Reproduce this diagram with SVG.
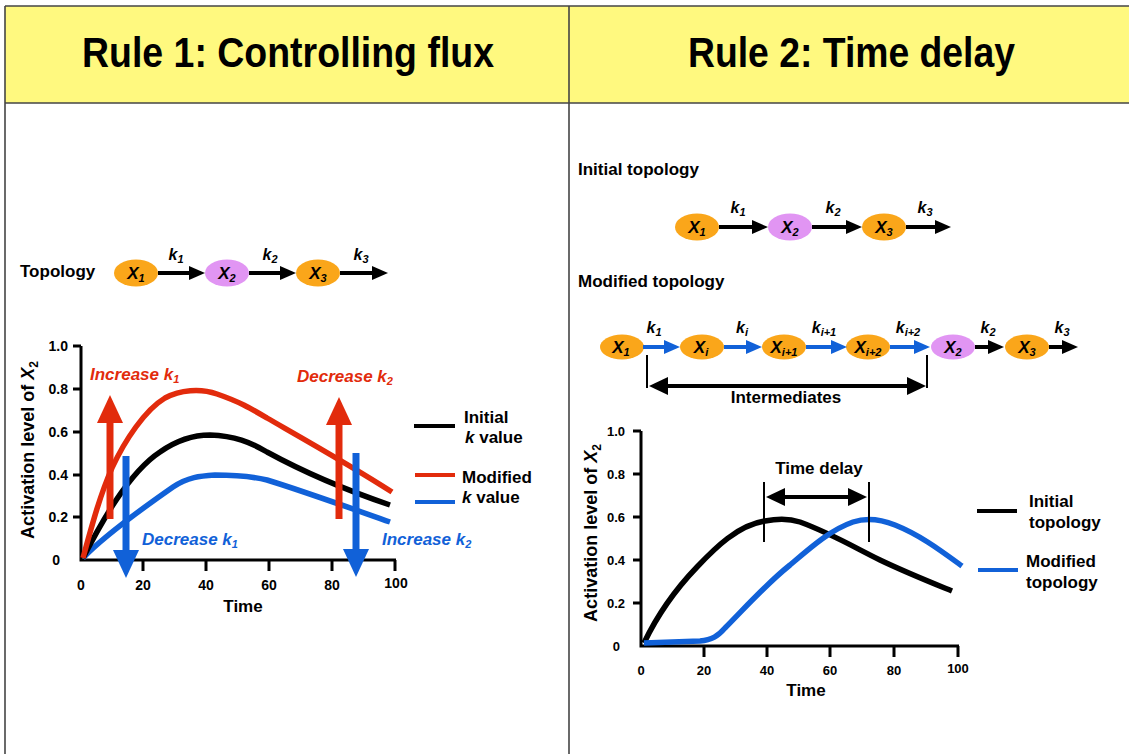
<svg xmlns="http://www.w3.org/2000/svg" width="1129" height="754" viewBox="0 0 1129 754">
<style>
text{font-family:"Liberation Sans",Arial,Helvetica,sans-serif;font-weight:bold;fill:#000}
.it{font-style:italic}
.hd{font-size:42px}
.lb{font-size:17px}
.nd{font-size:17px;font-style:italic;text-anchor:middle}
.kl{font-size:16px;font-style:italic;text-anchor:middle}
.tk{font-size:14px}
.tk2{font-size:13px}
.ax{fill:none;stroke:#000;stroke-width:3}
.tick{stroke:#000;stroke-width:3}
.frame{stroke:#444;stroke-width:1.6;fill:none}
.orange{fill:#FAA61A}
.purple{fill:#E195F3}
.blk{stroke:#000;stroke-width:4;fill:none}
.blu{stroke:#1161D8;stroke-width:4;fill:none}
.crvk{fill:none;stroke:#000;stroke-width:5.5;stroke-linecap:butt}
.crvr{fill:none;stroke:#E22B0C;stroke-width:5.5}
.crvb{fill:none;stroke:#1161D8;stroke-width:5.5}
.red{fill:#E22B0C}
.blue{fill:#1161D8}
.thin{stroke:#000;stroke-width:2}
</style>
<defs>
<marker id="ah" viewBox="0 0 16 14" refX="2" refY="7" markerWidth="16" markerHeight="14" markerUnits="userSpaceOnUse" orient="auto"><path d="M0,0 L16,7 L0,14 z" fill="#000"/></marker>
<marker id="ahb" viewBox="0 0 16 14" refX="2" refY="7" markerWidth="16" markerHeight="14" markerUnits="userSpaceOnUse" orient="auto"><path d="M0,0 L16,7 L0,14 z" fill="#1161D8"/></marker>
<marker id="ahd" viewBox="0 0 19 18" refX="3" refY="9" markerWidth="19" markerHeight="18" markerUnits="userSpaceOnUse" orient="auto-start-reverse"><path d="M0,0 L19,9 L0,18 z" fill="#000"/></marker>
<marker id="bigr" viewBox="0 0 28 26" refX="2" refY="13" markerWidth="28" markerHeight="26" markerUnits="userSpaceOnUse" orient="auto"><path d="M0,0 L28,13 L0,26 z" fill="#E22B0C"/></marker>
<marker id="bigb" viewBox="0 0 28 26" refX="2" refY="13" markerWidth="28" markerHeight="26" markerUnits="userSpaceOnUse" orient="auto"><path d="M0,0 L28,13 L0,26 z" fill="#1161D8"/></marker>
</defs>

<g id="frame">
<rect x="5" y="6" width="1124" height="97" fill="#FFF97F"/>
<line class="frame" x1="5" y1="6" x2="1129" y2="6"/>
<line class="frame" x1="5" y1="103" x2="1129" y2="103"/>
<line class="frame" x1="5" y1="6" x2="5" y2="754"/>
<line class="frame" x1="569" y1="6" x2="569" y2="754"/>
<text class="hd" x="82" y="67" textLength="412" lengthAdjust="spacingAndGlyphs">Rule 1: Controlling flux</text>
<text class="hd" x="688" y="67" textLength="327" lengthAdjust="spacingAndGlyphs">Rule 2: Time delay</text>
</g>

<!-- LEFT TOPOLOGY -->
<text class="lb" x="20" y="277">Topology</text>
<g id="L_X1"><ellipse class="orange" cx="136" cy="273" rx="22" ry="13.5"/><text class="nd" x="136" y="279">X<tspan font-size="11" dy="3">1</tspan></text></g>
<g id="L_X2"><ellipse class="purple" cx="227" cy="273" rx="22" ry="13.5"/><text class="nd" x="227" y="279">X<tspan font-size="11" dy="3">2</tspan></text></g>
<g id="L_X3"><ellipse class="orange" cx="318" cy="273" rx="22" ry="13.5"/><text class="nd" x="318" y="279">X<tspan font-size="11" dy="3">3</tspan></text></g>
<g id="L_edges">
<line class="blk" x1="158" y1="273" x2="191" y2="273" marker-end="url(#ah)"/>
<line class="blk" x1="249" y1="273" x2="282" y2="273" marker-end="url(#ah)"/>
<line class="blk" x1="340" y1="273" x2="374" y2="273" marker-end="url(#ah)"/>
<text class="kl" x="176" y="260">k<tspan font-size="11" dy="3">1</tspan></text>
<text class="kl" x="270" y="260">k<tspan font-size="11" dy="3">2</tspan></text>
<text class="kl" x="361" y="260">k<tspan font-size="11" dy="3">3</tspan></text>
</g>

<!-- LEFT CHART -->
<g id="L_chart">
<path class="ax" d="M81,346 V560 H396"/>
<g class="tick">
<line x1="73" y1="346" x2="81" y2="346"/><line x1="73" y1="389" x2="81" y2="389"/><line x1="73" y1="432" x2="81" y2="432"/><line x1="73" y1="475" x2="81" y2="475"/><line x1="73" y1="517" x2="81" y2="517"/>
<line x1="143" y1="560" x2="143" y2="571"/><line x1="206" y1="560" x2="206" y2="571"/><line x1="269" y1="560" x2="269" y2="571"/><line x1="332" y1="560" x2="332" y2="571"/><line x1="395" y1="560" x2="395" y2="571"/>
</g>
<g class="tk" text-anchor="end">
<text x="68" y="351">1.0</text><text x="68" y="394">0.8</text><text x="68" y="437">0.6</text><text x="68" y="480">0.4</text><text x="68" y="522">0.2</text><text x="60" y="565">0</text>
</g>
<g class="tk" text-anchor="middle">
<text x="81" y="590">0</text><text x="143" y="590">20</text><text x="206" y="590">40</text><text x="269" y="590">60</text><text x="332" y="590">80</text><text x="396" y="588">100</text>
</g>
<text class="lb" x="243" y="612" text-anchor="middle">Time</text>
<text font-size="18" text-anchor="middle" transform="translate(34,450) rotate(-90)">Activation level of <tspan class="it">X</tspan><tspan font-size="12" dy="4">2</tspan></text>
<path class="crvb" d="M83,558 C100,540 140,510 173,487 C188,477 200,476 215,475 C235,475 250,476 267,480 C300,490 350,508 390,522"/>
<path class="crvk" d="M83,558 C100,525 128,473 160,452 C180,438 198,435 210,435 C235,436 250,442 267,452 C300,470 340,488 390,505"/>
<path class="crvr" d="M83,558 C92,525 100,495 112,468 C125,440 145,410 165,398 C180,390 200,388 217,394 C240,402 250,408 267,418 C300,437 350,465 392,492"/>
<line x1="110" y1="519" x2="110" y2="421" stroke="#E22B0C" stroke-width="7" marker-end="url(#bigr)"/>
<line x1="339" y1="519" x2="339" y2="423" stroke="#E22B0C" stroke-width="7" marker-end="url(#bigr)"/>
<line x1="126" y1="456" x2="126" y2="552" stroke="#1161D8" stroke-width="7" marker-end="url(#bigb)"/>
<line x1="356" y1="453" x2="356" y2="551" stroke="#1161D8" stroke-width="7" marker-end="url(#bigb)"/>
<text class="lb it red" x="90" y="380">Increase k<tspan font-size="11" dy="3">1</tspan></text>
<text class="lb it red" x="297" y="382">Decrease k<tspan font-size="11" dy="3">2</tspan></text>
<text class="lb it blue" x="142" y="545">Decrease k<tspan font-size="11" dy="3">1</tspan></text>
<text class="lb it blue" x="382" y="545">Increase k<tspan font-size="11" dy="3">2</tspan></text>
</g>

<g id="L_legend">
<line x1="414" y1="426" x2="455" y2="426" stroke="#000" stroke-width="4"/>
<line x1="415" y1="475" x2="455" y2="475" stroke="#E22B0C" stroke-width="4"/>
<line x1="415" y1="502" x2="455" y2="502" stroke="#1161D8" stroke-width="4"/>
<text class="lb" x="464" y="423">Initial</text>
<text class="lb" x="465" y="443"><tspan class="it">k</tspan> value</text>
<text class="lb" x="462" y="483">Modified</text>
<text class="lb" x="462" y="503"><tspan class="it">k</tspan> value</text>
</g>

<!-- RIGHT: INITIAL TOPOLOGY -->
<text class="lb" x="578" y="175">Initial topology</text>
<g id="R_X1"><ellipse class="orange" cx="697" cy="227" rx="22" ry="13.5"/><text class="nd" x="697" y="233">X<tspan font-size="11" dy="3">1</tspan></text></g>
<g id="R_X2"><ellipse class="purple" cx="790" cy="227" rx="22" ry="13.5"/><text class="nd" x="790" y="233">X<tspan font-size="11" dy="3">2</tspan></text></g>
<g id="R_X3"><ellipse class="orange" cx="884" cy="227" rx="22" ry="13.5"/><text class="nd" x="884" y="233">X<tspan font-size="11" dy="3">3</tspan></text></g>
<g id="R_edges">
<line class="blk" x1="719" y1="227" x2="754" y2="227" marker-end="url(#ah)"/>
<line class="blk" x1="812" y1="227" x2="848" y2="227" marker-end="url(#ah)"/>
<line class="blk" x1="906" y1="227" x2="937" y2="227" marker-end="url(#ah)"/>
<text class="kl" x="738" y="213">k<tspan font-size="11" dy="3">1</tspan></text>
<text class="kl" x="833" y="213">k<tspan font-size="11" dy="3">2</tspan></text>
<text class="kl" x="925" y="213">k<tspan font-size="11" dy="3">3</tspan></text>
</g>

<!-- RIGHT: MODIFIED TOPOLOGY -->
<text class="lb" x="578" y="287">Modified topology</text>
<g id="M_X1"><ellipse class="orange" cx="622" cy="347" rx="22" ry="12.5"/><text class="nd" x="621" y="353">X<tspan font-size="11" dy="3">1</tspan></text></g>
<g id="M_Xi"><ellipse class="orange" cx="702" cy="347" rx="22" ry="12.5"/><text class="nd" x="701" y="353">X<tspan font-size="11" dy="3">i</tspan></text></g>
<g id="M_Xi1"><ellipse class="orange" cx="784" cy="347" rx="22" ry="12.5"/><text class="nd" x="784" y="353">X<tspan font-size="11" dy="3">i+1</tspan></text></g>
<g id="M_Xi2"><ellipse class="orange" cx="868" cy="347" rx="22" ry="12.5"/><text class="nd" x="868" y="353">X<tspan font-size="11" dy="3">i+2</tspan></text></g>
<g id="M_X2"><ellipse class="purple" cx="953" cy="347" rx="22" ry="12.5"/><text class="nd" x="953" y="353">X<tspan font-size="11" dy="3">2</tspan></text></g>
<g id="M_X3"><ellipse class="orange" cx="1027" cy="347" rx="22" ry="12.5"/><text class="nd" x="1027" y="353">X<tspan font-size="11" dy="3">3</tspan></text></g>
<g id="M_edges">
<line class="blu" x1="643" y1="347" x2="666" y2="347" marker-end="url(#ahb)"/>
<line class="blu" x1="724" y1="347" x2="748" y2="347" marker-end="url(#ahb)"/>
<line class="blu" x1="806" y1="347" x2="833" y2="347" marker-end="url(#ahb)"/>
<line class="blu" x1="890" y1="347" x2="916" y2="347" marker-end="url(#ahb)"/>
<line class="blk" x1="975" y1="347" x2="990" y2="347" marker-end="url(#ah)"/>
<line class="blk" x1="1049" y1="347" x2="1064" y2="347" marker-end="url(#ah)"/>
<text class="kl" x="654" y="333">k<tspan font-size="11" dy="3">1</tspan></text>
<text class="kl" x="742" y="333">k<tspan font-size="11" dy="3">i</tspan></text>
<text class="kl" x="824" y="333">k<tspan font-size="11" dy="3">i+1</tspan></text>
<text class="kl" x="908" y="333">k<tspan font-size="11" dy="3">i+2</tspan></text>
<text class="kl" x="988" y="333">k<tspan font-size="11" dy="3">2</tspan></text>
<text class="kl" x="1062" y="333">k<tspan font-size="11" dy="3">3</tspan></text>
<line class="thin" x1="647" y1="355" x2="647" y2="388"/>
<line class="thin" x1="927" y1="355" x2="927" y2="388"/>
<line x1="665" y1="386" x2="910" y2="386" stroke="#000" stroke-width="4" marker-start="url(#ahd)" marker-end="url(#ahd)"/>
<text class="lb" x="786" y="403" text-anchor="middle">Intermediates</text>
</g>

<!-- RIGHT CHART -->
<g id="R_chart">
<path class="ax" d="M641,431 V646 H959"/>
<g class="tick">
<line x1="633" y1="431" x2="641" y2="431"/><line x1="633" y1="474" x2="641" y2="474"/><line x1="633" y1="517" x2="641" y2="517"/><line x1="633" y1="560" x2="641" y2="560"/><line x1="633" y1="603" x2="641" y2="603"/>
<line x1="704" y1="646" x2="704" y2="657"/><line x1="767" y1="646" x2="767" y2="657"/><line x1="830" y1="646" x2="830" y2="657"/><line x1="894" y1="646" x2="894" y2="657"/><line x1="958" y1="646" x2="958" y2="657"/>
</g>
<g class="tk2" text-anchor="end">
<text x="625" y="436">1.0</text><text x="625" y="479">0.8</text><text x="625" y="522">0.6</text><text x="625" y="565">0.4</text><text x="625" y="608">0.2</text><text x="620" y="651">0</text>
</g>
<g class="tk2" text-anchor="middle">
<text x="641" y="675">0</text><text x="704" y="675">20</text><text x="767" y="675">40</text><text x="830" y="675">60</text><text x="894" y="675">80</text><text x="958" y="673">100</text>
</g>
<text class="lb" x="806" y="696" text-anchor="middle">Time</text>
<text font-size="18" text-anchor="middle" transform="translate(597,533) rotate(-90)">Activation level of <tspan class="it">X</tspan><tspan font-size="12" dy="4">2</tspan></text>
<path class="crvk" d="M644,643 C655,620 672,593 697,567 C715,548 738,525 765,521 C775,519 788,518 800,522 C830,533 850,545 880,560 C905,572 930,582 952,591"/>
<path class="crvb" d="M644,643 L700,641 C712,640 718,636 725,628 C745,608 765,585 790,565 C810,548 830,530 853,522 C865,518 880,519 895,525 C920,535 940,550 962,566"/>
<line class="thin" x1="764" y1="482" x2="764" y2="542"/>
<line class="thin" x1="869" y1="482" x2="869" y2="542"/>
<line x1="782" y1="497" x2="851" y2="497" stroke="#000" stroke-width="4" marker-start="url(#ahd)" marker-end="url(#ahd)"/>
<text class="lb" x="819" y="474" text-anchor="middle">Time delay</text>
</g>

<g id="R_legend">
<line x1="977" y1="511" x2="1017" y2="511" stroke="#000" stroke-width="4"/>
<line x1="978" y1="570" x2="1018" y2="570" stroke="#1161D8" stroke-width="4"/>
<text class="lb" x="1029" y="507">Initial</text>
<text class="lb" x="1029" y="528">topology</text>
<text class="lb" x="1026" y="567">Modified</text>
<text class="lb" x="1026" y="588">topology</text>
</g>
</svg>
